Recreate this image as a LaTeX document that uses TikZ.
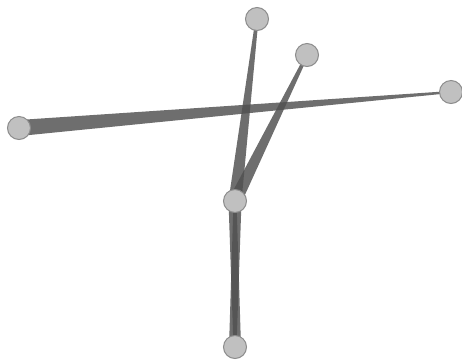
\documentclass[tikz,border=0pt]{standalone}
\usepackage{tikz}
\usetikzlibrary{calc,backgrounds}
\definecolor{nodegray}{RGB}{192,192,192}
\definecolor{rimgray}{RGB}{140,140,140}
\definecolor{linkgray}{RGB}{80,80,80}
\tikzset{
  vertex/.style={
    circle,
    draw=rimgray,
    fill=nodegray,
    line width=1pt,
    minimum size=23pt,
    inner sep=0pt
  },
  link/.style={
    fill=linkgray,
    fill opacity=.83
  }
}
% tapered link: #1 wide end, #2 thin end, half widths #3 and #4
\newcommand{\taper}[4]{%
  \fill[link] ($(#1)!#3!90:(#2)$) -- ($(#2)!#4!-90:(#1)$)
    -- ($(#2)!#4!90:(#1)$) -- ($(#1)!#3!-90:(#2)$) -- cycle;
}

\begin{document}
\begin{tikzpicture}[x=1pt,y=-1pt]
\useasboundingbox (0,0) rectangle (462,360);
\node[vertex] (top) at (257,19) {};
\node[vertex] (upr) at (307,55) {};
\node[vertex] (rgt) at (451,92) {};
\node[vertex] (lft) at (19,128) {};
\node[vertex] (hub) at (235,201) {};
\node[vertex] (bot) at (235,347) {};
\begin{pgfonlayer}{background}
\taper{lft}{rgt}{8pt}{1pt}
\taper{hub}{top}{6.5pt}{1.5pt}
\taper{hub}{upr}{6.5pt}{1.5pt}
\taper{hub}{bot}{6.5pt}{1.5pt}
\taper{bot}{hub}{6pt}{1.5pt}
\end{pgfonlayer}
\end{tikzpicture}
\end{document}
